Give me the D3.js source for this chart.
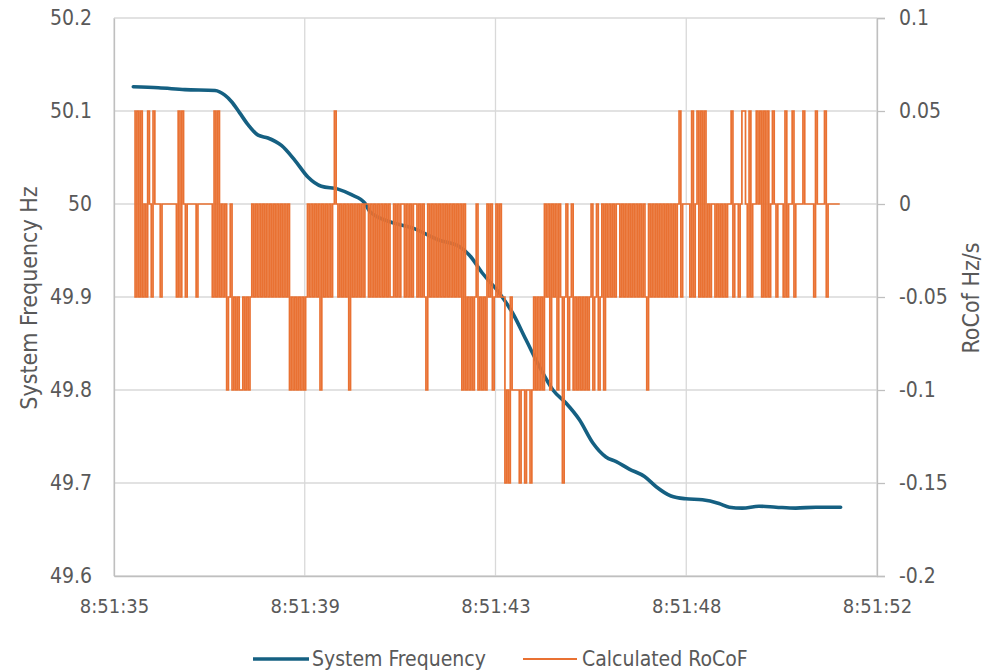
<!DOCTYPE html>
<html><head><meta charset="utf-8">
<script src="https://cdn.jsdelivr.net/npm/d3@7"></script>
<style>body{margin:0;background:#fff} svg{display:block}</style>
</head><body><svg id="c" width="986" height="671"></svg>
<script>
// ---------- data ----------
const xTickValues = [35, 39.25, 43.5, 47.75, 52];           // seconds after 8:51:00
const xTickLabels = ["8:51:35", "8:51:39", "8:51:43", "8:51:48", "8:51:52"];
const leftTicks = [49.6, 49.7, 49.8, 49.9, 50, 50.1, 50.2];
const leftTickLabels = ["49.6", "49.7", "49.8", "49.9", "50", "50.1", "50.2"];
const rightTicks = [-0.2, -0.15, -0.1, -0.05, 0, 0.05, 0.1];
const rightTickLabels = ["-0.2", "-0.15", "-0.1", "-0.05", "0", "0.05", "0.1"];
const seriesNames = ["System Frequency", "Calculated RoCoF"];

const freqTime = [35.43, 35.99, 36.58, 37.25, 37.47, 37.62, 37.80, 37.99, 38.21, 38.43, 38.73, 39.03, 39.32, 39.62, 39.99, 40.29, 40.59, 40.70, 41.14, 41.66, 42.25, 42.70, 42.92, 43.22, 43.59, 43.89, 44.18, 44.48, 44.78, 45.07, 45.37, 45.67, 45.96, 46.19, 46.48, 46.82, 47.08, 47.41, 47.74, 48.11, 48.48, 48.71, 49.00, 49.37, 49.75, 50.19, 50.64, 51.19];
const freqValue = [50.126, 50.125, 50.123, 50.122, 50.117, 50.110, 50.098, 50.085, 50.074, 50.071, 50.063, 50.047, 50.029, 50.019, 50.016, 50.010, 50.001, 49.992, 49.981, 49.974, 49.961, 49.954, 49.945, 49.925, 49.904, 49.882, 49.854, 49.825, 49.800, 49.786, 49.768, 49.743, 49.728, 49.723, 49.715, 49.707, 49.696, 49.686, 49.683, 49.682, 49.678, 49.674, 49.673, 49.675, 49.674, 49.673, 49.674, 49.674];

const rocofStart = 35.45;      // first sample, seconds after 8:51:00
const rocofInterval = 0.04;    // sample spacing, s
const rocofValues = [
 0.05,-0.05,0.05,-0.05,0.05,-0.05,0,-0.05,0.05,0,
 -0.05,0.05,0,0,0,-0.05,0,0,0,0,
 0,0,0,0,-0.05,0.05,-0.05,0.05,0,-0.05,
 0,0,0,0,0,-0.05,0,0,0,0,
 0,0,0,0,-0.05,0.05,-0.05,0.05,-0.05,0,
 -0.05,0,-0.1,-0.05,0,-0.1,-0.05,-0.1,-0.05,-0.1,
 -0.1,-0.05,-0.1,-0.05,-0.1,-0.05,0,-0.05,0,-0.05,
 0,-0.05,0,-0.05,0,-0.05,0,-0.05,0,-0.05,
 0,-0.05,0,-0.05,0,-0.05,0,-0.1,-0.05,-0.1,
 -0.05,-0.1,-0.05,-0.1,-0.05,-0.1,-0.05,0,-0.05,0,
 -0.05,0,-0.05,0,-0.1,0,-0.05,0,-0.05,0,
 -0.05,0,0.05,0,-0.05,0,-0.05,0,-0.05,0,
 -0.1,0,-0.05,0,-0.05,0,-0.05,0,-0.05,0,
 0,-0.05,0,-0.05,0,-0.05,0,-0.05,0,-0.05,
 0,-0.05,0,-0.05,-0.05,0,-0.05,0,-0.05,0,
 0,-0.05,0,-0.05,0,-0.05,0,0,-0.05,0,
 -0.05,0,-0.05,-0.1,0,-0.05,0,-0.05,0,-0.05,
 0,-0.05,0,-0.05,0,-0.05,0,-0.05,0,-0.05,
 0,-0.05,0,-0.1,0,-0.1,-0.05,-0.1,-0.05,-0.1,
 -0.05,0,-0.1,-0.05,-0.1,-0.05,-0.1,0,-0.05,0,
 -0.1,-0.05,0,-0.05,0,-0.05,-0.05,-0.15,-0.1,-0.15,
 -0.05,-0.1,-0.1,-0.1,-0.1,-0.15,-0.1,-0.1,-0.15,-0.1,
 -0.1,-0.15,-0.1,-0.05,-0.1,-0.05,-0.1,-0.05,-0.1,0,
 -0.05,0,-0.1,0,-0.05,0,-0.1,0,-0.05,-0.15,
 -0.05,0,-0.1,-0.05,0,-0.1,-0.05,-0.1,-0.05,-0.1,
 -0.05,-0.1,-0.05,-0.1,-0.05,0,-0.1,-0.05,0,-0.1,
 -0.05,0,-0.1,0,-0.05,0,-0.05,0,-0.05,0,
 0,-0.05,0,-0.05,0,-0.05,0,-0.05,0,-0.05,
 0,-0.05,0,-0.05,0,-0.05,-0.1,0,-0.05,0,
 -0.05,0,-0.05,0,-0.05,0,-0.05,0,-0.05,0,
 -0.05,0,-0.05,0,0.05,-0.05,0,0,0,0,
 -0.05,0.05,-0.05,0,0.05,-0.05,0.05,-0.05,0.05,-0.05,
 0,-0.05,0,0,-0.05,0,-0.05,0,-0.05,0,
 -0.05,0,0,0.05,-0.05,0,0,-0.05,0,0.05,
 0.05,0,-0.05,0.05,-0.05,0,0,0.05,0,0.05,
 -0.05,0.05,-0.05,0.05,-0.05,0,0.05,0,-0.05,0,
 0,0,-0.05,0.05,-0.05,0,0,0.05,-0.05,0,
 0,0,0,0.05,0,0,0,0,0,-0.05,
 0.05,0,0,0,0,0.05,-0.05,0,0,0,
 0,0,0,0
];

// ---------- styles ----------
const FONT = "'DejaVu Sans Condensed','Liberation Sans Narrow',sans-serif";
const TXT = "#595959", GRID = "#d9d9d9";
const BLUE = "#156082", ORANGE = "#E97132";

// ---------- layout ----------
const svg = d3.select("#c");
const L = 114, R = 877, T = 18, B = 576;

const x = d3.scaleLinear().domain([35, 52]).range([L, R]);
const yL = d3.scaleLinear().domain([49.6, 50.2]).range([B, T]);
const yR = d3.scaleLinear().domain([-0.2, 0.1]).range([B, T]);

// gridlines
svg.append("g").selectAll("line").data(leftTicks).join("line")
  .attr("x1", L).attr("x2", R).attr("y1", d => yL(d)).attr("y2", d => yL(d))
  .attr("stroke", GRID).attr("stroke-width", 1.3);
svg.append("g").selectAll("line").data(xTickValues).join("line")
  .attr("x1", d => x(d)).attr("x2", d => x(d)).attr("y1", T).attr("y2", B)
  .attr("stroke", GRID).attr("stroke-width", 1.3);

// axes
const axL = d3.axisLeft(yL).tickValues(leftTicks).tickSize(0).tickPadding(22)
  .tickFormat((d, i) => leftTickLabels[i]);
const gL = svg.append("g").attr("transform", `translate(${L},0)`).call(axL);
const axR = d3.axisRight(yR).tickValues(rightTicks).tickSize(8).tickPadding(14)
  .tickFormat((d, i) => rightTickLabels[i]);
const gR = svg.append("g").attr("transform", `translate(${R},0)`).call(axR);
const axB = d3.axisBottom(x).tickValues(xTickValues).tickSize(0).tickPadding(23)
  .tickFormat((d, i) => xTickLabels[i]);
const gB = svg.append("g").attr("transform", `translate(0,${B})`).call(axB);
[gL, gR, gB].forEach(g => {
  g.select(".domain").attr("stroke", "#bfbfbf").attr("stroke-width", 1.3);
  g.selectAll(".tick line").attr("stroke", "#bfbfbf").attr("stroke-width", 1.3);
  g.selectAll("text").attr("fill", TXT).style("font-family", FONT).style("font-size", "21px");
});
gB.selectAll("text").style("font-size", "20px");

// series
const freqData = freqTime.map((t, i) => ({ t, v: freqValue[i] }));
const rocofData = rocofValues.map((v, i) => ({ t: rocofStart + i * rocofInterval, v }));

svg.append("path").datum(freqData)
  .attr("fill", "none").attr("stroke", BLUE).attr("stroke-width", 3.6)
  .attr("stroke-linejoin", "round").attr("stroke-linecap", "round")
  .attr("d", d3.line().x(d => x(d.t)).y(d => yL(d.v)).curve(d3.curveMonotoneX));

svg.append("path").datum(rocofData)
  .attr("fill", "none").attr("stroke", ORANGE).attr("stroke-width", 1.7)
  .attr("d", d3.line().x(d => x(d.t)).y(d => yR(d.v)).curve(d3.curveStep));

// axis titles
svg.append("text").attr("transform", "translate(37,298) rotate(-90)")
  .attr("text-anchor", "middle").attr("fill", TXT)
  .style("font-family", FONT).style("font-size", "23px").text("System Frequency Hz");
svg.append("text").attr("transform", "translate(979,298) rotate(-90)")
  .attr("text-anchor", "middle").attr("fill", TXT)
  .style("font-family", FONT).style("font-size", "23px").text("RoCof Hz/s");

// legend
const leg = svg.append("g");
const legItems = [
  { name: seriesNames[0], color: BLUE, w: 3.6, x1: 253, x2: 309, tx: 312 },
  { name: seriesNames[1], color: ORANGE, w: 1.8, x1: 523, x2: 577, tx: 582 }
];
legItems.forEach(it => {
  leg.append("line").attr("x1", it.x1).attr("x2", it.x2).attr("y1", 659).attr("y2", 659)
    .attr("stroke", it.color).attr("stroke-width", it.w);
  leg.append("text").attr("x", it.tx).attr("y", 659).attr("dy", "0.35em")
    .attr("fill", TXT).style("font-family", FONT).style("font-size", "21px").text(it.name);
});
</script></body></html>
